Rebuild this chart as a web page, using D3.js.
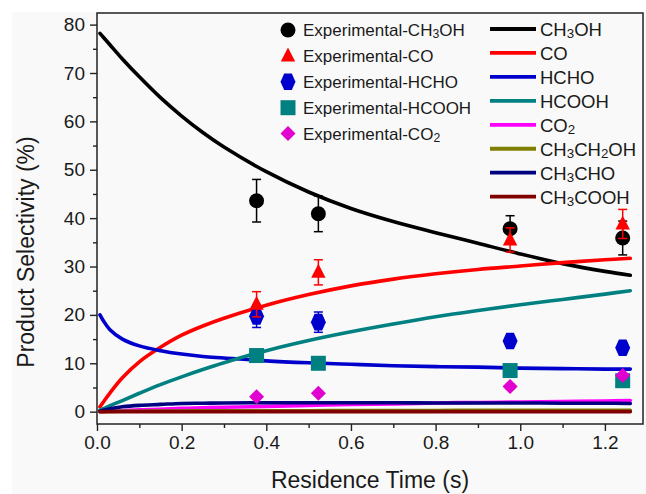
<!DOCTYPE html>
<html>
<head>
<meta charset="utf-8">
<script src="https://cdn.jsdelivr.net/npm/d3@7"></script>
<style>
  body { margin: 0; background: #fff; }
  text { font-family: "Liberation Sans", Arial, sans-serif; fill: #1a1a1a; }
</style>
</head>
<body>
<svg id="chart" width="646" height="494"></svg>
<script>
// model curves (residence time in s, selectivity in %)
const modelTime = [0.007, 0.015, 0.03, 0.06, 0.1, 0.15, 0.2, 0.25, 0.3, 0.4, 0.5, 0.6, 0.7, 0.8, 0.9, 1.0, 1.1, 1.2, 1.26];
const modelCH3OH = [78.2, 77.4, 75.9, 72.9, 69.2, 64.9, 61.1, 57.7, 54.7, 49.6, 45.4, 42.0, 39.3, 37.0, 34.8, 32.6, 30.6, 29.0, 28.2];
const modelCO = [1.0, 2.0, 3.8, 7.0, 10.3, 13.3, 15.8, 17.7, 19.3, 22.0, 24.2, 26.0, 27.4, 28.5, 29.4, 30.1, 30.8, 31.4, 31.7];
const modelHCHO = [20.0, 18.8, 17.0, 15.0, 13.6, 12.6, 11.9, 11.4, 11.1, 10.5, 10.1, 9.8, 9.5, 9.3, 9.2, 9.0, 8.9, 8.8, 8.8];
const modelHCOOH = [0.3, 0.6, 1.2, 2.3, 3.8, 5.6, 7.2, 8.7, 10.1, 12.6, 14.7, 16.5, 18.1, 19.6, 20.9, 22.1, 23.2, 24.3, 25.0];
const modelCO2 = [0.0, 0.05, 0.1, 0.2, 0.4, 0.5, 0.7, 0.8, 0.9, 1.1, 1.3, 1.5, 1.6, 1.8, 1.9, 2.0, 2.1, 2.2, 2.3];
const modelCH3CH2OH = [0.0, 0.0, 0.05, 0.1, 0.1, 0.15, 0.15, 0.2, 0.2, 0.2, 0.2, 0.25, 0.25, 0.25, 0.3, 0.3, 0.3, 0.3, 0.3];
const modelCH3CHO = [0.1, 0.3, 0.6, 1.0, 1.3, 1.5, 1.7, 1.75, 1.8, 1.85, 1.85, 1.85, 1.85, 1.8, 1.8, 1.8, 1.75, 1.75, 1.7];
const modelCH3COOH = [0, 0, 0, 0, 0, 0, 0, 0, 0, 0, 0, 0, 0, 0, 0, 0, 0, 0, 0];

// experimental points with error bars
const expTime = [0.377, 0.523, 0.976, 1.242];
const expCH3OH = [43.6, 40.9, 37.8, 35.9];
const errCH3OH = [4.4, 3.7, 2.7, 3.5];
const expCO = [22.2, 28.8, 35.5, 38.8];
const errCO = [2.6, 2.6, 2.5, 3.0];
const expHCHO = [19.7, 18.5, 14.6, 13.2];
const errHCHO = [2.3, 2.1, 1.0, 1.0];
const expHCOOH = [11.6, 10.0, 8.5, 6.4];
const errHCOOH = [1.0, 1.0, 1.0, 1.0];
const expCO2 = [3.1, 3.8, 5.2, 7.5];
const errCO2 = [0.5, 0.5, 0.5, 0.5];

const xTicks = [0, 0.2, 0.4, 0.6, 0.8, 1.0, 1.2];
const xMinorTicks = [0.1, 0.3, 0.5, 0.7, 0.9, 1.1];
const yTicks = [0, 10, 20, 30, 40, 50, 60, 70, 80];
const yMinorTicks = [5, 15, 25, 35, 45, 55, 65, 75];

const curves = [
  { name: "CH3OH", values: modelCH3OH, color: "#000000" },
  { name: "CO", values: modelCO, color: "#ff0000" },
  { name: "HCHO", values: modelHCHO, color: "#0000cc" },
  { name: "HCOOH", values: modelHCOOH, color: "#008080" },
  { name: "CO2", values: modelCO2, color: "#ff00ff" },
  { name: "CH3CH2OH", values: modelCH3CH2OH, color: "#808000" },
  { name: "CH3CHO", values: modelCH3CHO, color: "#000080" },
  { name: "CH3COOH", values: modelCH3COOH, color: "#800000" },
];

// order = drawing order of the markers (later ones sit on top)
const points = [
  { name: "Experimental-CH3OH", values: expCH3OH, err: errCH3OH, color: "#000000", shape: "circle", order: 3 },
  { name: "Experimental-CO", values: expCO, err: errCO, color: "#ff0000", shape: "triangle", order: 4 },
  { name: "Experimental-HCHO", values: expHCHO, err: errHCHO, color: "#0000cc", shape: "hexagon", order: 0 },
  { name: "Experimental-HCOOH", values: expHCOOH, err: errHCOOH, color: "#008080", shape: "square", order: 1 },
  { name: "Experimental-CO2", values: expCO2, err: errCO2, color: "#e000d0", shape: "diamond", order: 2 },
];

const width = 646, height = 494;
const plot = { left: 97, right: 643, top: 13, bottom: 424 };

const svg = d3.select("#chart");
svg.append("rect").attr("x", 12).attr("y", 12).attr("width", width).attr("height", height).attr("fill", "#f9f9f9");

const x = d3.scaleLinear().domain([0, 1.29]).range([plot.left, plot.right]);
const y = d3.scaleLinear().domain([-2.55, 82.4]).range([plot.bottom, plot.top]);

// markers
function markerPath(shape) {
  const p = d3.path();
  if (shape === "circle") {
    p.arc(0, 0, 7.5, 0, Math.PI * 2);
  } else if (shape === "triangle") {
    p.moveTo(0, -8.5); p.lineTo(7.2, 5.5); p.lineTo(-7.2, 5.5); p.closePath();
  } else if (shape === "hexagon") {
    p.moveTo(-3.8, -8.3); p.lineTo(3.8, -8.3); p.lineTo(7.5, 0); p.lineTo(3.8, 8.3);
    p.lineTo(-3.8, 8.3); p.lineTo(-7.5, 0); p.closePath();
  } else if (shape === "square") {
    p.rect(-7.5, -7.5, 15, 15);
  } else if (shape === "diamond") {
    p.moveTo(0, -7.5); p.lineTo(7.5, 0); p.lineTo(0, 7.5); p.lineTo(-7.5, 0); p.closePath();
  }
  return p.toString();
}

// chemical formula text with subscript digits
function formula(sel, str) {
  const parts = str.match(/\d+|[^\d]+/g);
  let sub = false;
  parts.forEach((s) => {
    const isNum = /^\d+$/.test(s);
    const t = sel.append("tspan").text(s);
    if (isNum) {
      t.attr("font-size", "0.72em").attr("dy", 2);
      sub = true;
    } else if (sub) {
      t.attr("dy", -2);
      sub = false;
    }
  });
}

// axes
const gx = svg.append("g").attr("transform", `translate(0,${plot.bottom})`);
gx.call(d3.axisBottom(x).tickValues(xTicks).tickSize(7).tickPadding(5).tickFormat(d3.format(".1f")));
gx.append("g").call(d3.axisBottom(x).tickValues(xMinorTicks).tickSize(4).tickFormat(""));
const gy = svg.append("g").attr("transform", `translate(${plot.left},0)`);
gy.call(d3.axisLeft(y).tickValues(yTicks).tickSize(7).tickPadding(5));
gy.append("g").call(d3.axisLeft(y).tickValues(yMinorTicks).tickSize(4).tickFormat(""));
svg.selectAll(".domain").remove();
svg.selectAll(".tick line").attr("stroke", "#222").attr("stroke-width", 1.4);
svg.selectAll(".tick text").attr("font-size", 19).attr("fill", "#1a1a1a")
  .style("font-family", '"Liberation Sans", Arial, sans-serif');

// frame
svg.append("rect")
  .attr("x", plot.left).attr("y", plot.top)
  .attr("width", plot.right - plot.left).attr("height", plot.bottom - plot.top)
  .attr("fill", "none").attr("stroke", "#222").attr("stroke-width", 1.5);

// model lines
const line = d3.line()
  .x((d, i) => x(modelTime[i]))
  .y((d) => y(d))
  .curve(d3.curveCatmullRom.alpha(0.5));

svg.append("g").selectAll("path")
  .data(curves)
  .join("path")
  .attr("d", (d) => line(d.values))
  .attr("fill", "none")
  .attr("stroke", (d) => d.color)
  .attr("stroke-width", 3.6)
  .attr("stroke-linecap", "round");

// experimental points
const gPts = svg.append("g").selectAll("g")
  .data(points.slice().sort((a, b) => a.order - b.order))
  .join("g")
  .attr("fill", (d) => d.color)
  .attr("stroke", (d) => d.color);

gPts.each(function (s) {
  const g = d3.select(this);
  const rows = expTime.map((t, i) => ({ t, v: s.values[i], e: s.err[i] }));
  const eb = g.selectAll(".err").data(rows).join("g").attr("class", "err")
    .attr("stroke-width", 1.5).attr("fill", "none");
  eb.append("line")
    .attr("x1", (d) => x(d.t)).attr("x2", (d) => x(d.t))
    .attr("y1", (d) => y(d.v + d.e)).attr("y2", (d) => y(d.v - d.e));
  eb.append("line")
    .attr("x1", (d) => x(d.t) - 4.5).attr("x2", (d) => x(d.t) + 4.5)
    .attr("y1", (d) => y(d.v + d.e)).attr("y2", (d) => y(d.v + d.e));
  eb.append("line")
    .attr("x1", (d) => x(d.t) - 4.5).attr("x2", (d) => x(d.t) + 4.5)
    .attr("y1", (d) => y(d.v - d.e)).attr("y2", (d) => y(d.v - d.e));
  g.selectAll(".mk").data(rows).join("path").attr("class", "mk")
    .attr("d", markerPath(s.shape))
    .attr("stroke", "none")
    .attr("transform", (d) => `translate(${x(d.t)},${y(d.v)})`);
});

// legend: experimental markers
const legPts = svg.append("g").selectAll("g")
  .data(points)
  .join("g")
  .attr("transform", (d, i) => `translate(288,${30 + i * 25.9})`);
legPts.append("path").attr("d", (d) => markerPath(d.shape)).attr("fill", (d) => d.color);
legPts.append("text")
  .attr("x", 15).attr("y", 6)
  .attr("font-size", 17)
  .each(function (d) { formula(d3.select(this), d.name); });

// legend: model lines
const legLines = svg.append("g").selectAll("g")
  .data(curves)
  .join("g")
  .attr("transform", (d, i) => `translate(490,${29 + i * 23.95})`);
legLines.append("line")
  .attr("x1", 0).attr("x2", 46)
  .attr("stroke", (d) => d.color).attr("stroke-width", 3.8);
legLines.append("text")
  .attr("x", 50).attr("y", 7)
  .attr("font-size", 18.5)
  .each(function (d) { formula(d3.select(this), d.name); });

// axis titles
svg.append("text")
  .attr("transform", `translate(34,252) rotate(-90)`)
  .attr("text-anchor", "middle")
  .attr("font-size", 23)
  .text("Product Selectivity (%)");
svg.append("text")
  .attr("x", (plot.left + plot.right) / 2).attr("y", 488)
  .attr("text-anchor", "middle")
  .attr("font-size", 23)
  .text("Residence Time (s)");
</script>
</body>
</html>
